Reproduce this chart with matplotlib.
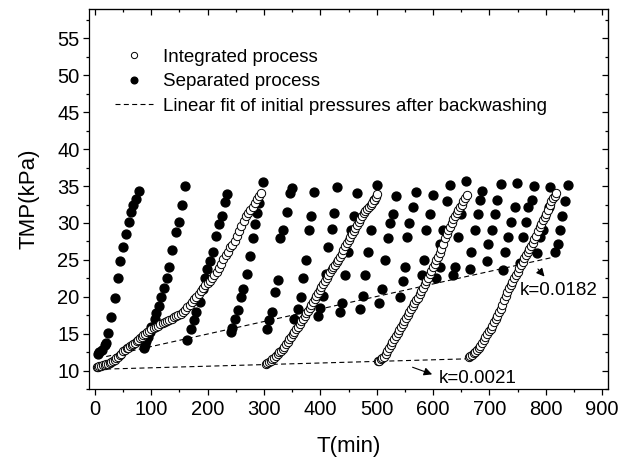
import matplotlib
matplotlib.use("Agg")
import numpy as np
import matplotlib.pyplot as plt
from matplotlib.ticker import MultipleLocator

plt.rcParams['font.family'] = ['Liberation Sans', 'DejaVu Sans']

# integrated process, four filtration cycles (open circles)
int_t_a = [3, 5, 8, 11, 14, 17, 20, 23, 26, 29, 32, 35, 38, 41, 44, 47, 50, 53, 56, 59,
           62, 65, 68, 71, 74, 77, 80, 83, 86, 89, 92, 96, 100, 104, 108, 112, 116, 120,
           124, 128, 132, 136, 140, 144, 148, 152, 156, 160, 164, 168, 172, 176, 180, 184,
           188, 192, 196, 200, 204, 208, 212, 216, 220, 224, 228, 232, 236, 240, 244, 248,
           252, 256, 260, 264, 268, 272, 276, 280, 284, 288, 292, 295]
int_p_a = [10.45, 10.55, 10.6, 10.65, 10.7, 10.8, 10.9, 10.95, 11.0, 11.15, 11.35, 11.45,
           11.65, 11.9, 12.05, 12.3, 12.6, 12.85, 13.0, 13.1, 13.3, 13.45, 13.6, 13.75,
           13.95, 14.2, 14.4, 14.6, 14.8, 15.0, 15.2, 15.4, 15.6, 15.8, 15.95, 16.1, 16.25,
           16.4, 16.6, 16.75, 16.9, 17.05, 17.2, 17.35, 17.5, 17.7, 17.95, 18.25, 18.6,
           18.95, 19.3, 19.7, 20.0, 20.35, 20.75, 21.2, 21.6, 21.9, 22.1, 22.5, 22.95, 23.4,
           23.9, 24.5, 25.1, 25.6, 26.1, 26.7, 27.0, 27.6, 28.3, 28.9, 29.6, 30.3, 30.9,
           31.4, 31.8, 32.2, 32.7, 33.2, 33.7, 34.05]

int_t_b = [303, 306, 309, 312, 315, 318, 321, 324, 327, 330, 333, 336, 339, 342, 345, 348,
           351, 354, 357, 360, 363, 366, 369, 372, 375, 378, 381, 384, 387, 390, 393, 396,
           399, 402, 405, 408, 411, 414, 417, 420, 423, 426, 429, 432, 435, 438, 441, 444,
           447, 450, 453, 456, 459, 462, 465, 468, 471, 474, 477, 480, 483, 486, 489, 492,
           495, 498, 500]
int_p_b = [10.95, 11.05, 11.15, 11.35, 11.55, 11.75, 11.95, 12.2, 12.45, 12.7, 12.95, 13.25,
           13.55, 13.9, 14.25, 14.6, 14.9, 15.25, 15.6, 15.95, 16.3, 16.65, 17.0, 17.4,
           17.75, 18.1, 18.5, 18.9, 19.3, 19.7, 20.1, 20.5, 20.9, 21.3, 21.75, 22.2, 22.6,
           23.0, 23.35, 23.7, 24.0, 24.35, 24.7, 25.05, 25.4, 25.85, 26.35, 26.85, 27.3,
           27.7, 28.1, 28.5, 28.9, 29.3, 29.75, 30.15, 30.55, 30.95, 31.3, 31.6, 31.9, 32.2,
           32.45, 32.75, 33.1, 33.5, 33.9]

int_t_c = [502, 504, 507, 510, 513, 516, 519, 522, 525, 528, 531, 534, 537, 540, 543, 546,
           549, 552, 555, 558, 561, 564, 567, 570, 573, 576, 579, 582, 585, 588, 591, 594,
           597, 600, 603, 606, 609, 612, 615, 618, 621, 624, 627, 630, 633, 636, 639, 642,
           645, 648, 651, 654, 657, 660]
int_p_c = [11.3, 11.35, 11.5, 11.7, 11.9, 12.2, 12.6, 13.0, 13.4, 13.85, 14.3, 14.7, 15.1,
           15.5, 15.9, 16.3, 16.7, 17.1, 17.5, 17.9, 18.3, 18.7, 19.1, 19.5, 19.9, 20.35,
           20.8, 21.25, 21.7, 22.15, 22.6, 23.05, 23.5, 24.0, 24.5, 25.0, 25.45, 25.9, 26.5,
           27.2, 27.9, 28.5, 29.0, 29.5, 30.0, 30.5, 30.95, 31.35, 31.75, 32.1, 32.5, 32.95,
           33.35, 33.75]

int_t_d = [663, 666, 669, 672, 675, 678, 681, 684, 687, 690, 693, 696, 699, 702, 705, 708,
           711, 714, 717, 720, 723, 726, 729, 732, 735, 738, 741, 744, 747, 750, 753, 756,
           759, 762, 765, 768, 771, 774, 777, 780, 783, 786, 789, 792, 795, 798, 801, 804,
           807, 810, 813, 816, 819]
int_p_d = [11.9, 12.0, 12.15, 12.35, 12.5, 12.75, 13.0, 13.3, 13.7, 14.1, 14.5, 14.9, 15.3,
           15.7, 16.1, 16.55, 17.0, 17.45, 17.9, 18.4, 18.9, 19.5, 20.1, 20.7, 21.2, 21.6,
           22.0, 22.5, 22.95, 23.4, 23.85, 24.3, 24.75, 25.2, 25.7, 26.1, 26.5, 26.9, 27.3,
           27.8, 28.3, 28.9, 29.4, 29.9, 30.35, 30.8, 31.25, 31.8, 32.4, 33.0, 33.4, 33.7,
           34.0]

# separated process (filled circles)
sep_t = [5, 8, 12, 17, 19, 24, 29, 35, 40, 45, 50, 55, 60, 64, 67, 72, 79,
         87, 88, 90, 94, 97, 100, 106, 109, 113, 118, 122, 127, 131, 136, 144, 149, 155, 160,
         164, 171, 176, 179, 187, 191, 195, 199, 205, 210, 215, 220, 225, 231, 234,
         241, 244, 248, 254, 260, 263, 269, 275, 280, 284, 288, 291, 298,
         305, 309, 314, 320, 325, 329, 334, 341, 346, 349,
         354, 360, 365, 370, 375, 380, 384, 388,
         395, 399, 405, 410, 414, 420, 424, 430,
         435, 439, 443, 449, 455, 460, 465,
         470, 475, 479, 485, 489, 495, 500,
         504, 509, 514, 520, 524, 529, 535,
         541, 547, 550, 553, 558, 565, 569,
         580, 584, 588, 594, 600,
         606, 612, 612, 618, 624, 630,
         635, 639, 644, 649, 659,
         665, 668, 674, 680, 683, 686,
         695, 698, 704, 710, 713, 720,
         724, 727, 733, 738, 745, 749,
         754, 759, 765, 769, 775, 779,
         784, 789, 795, 806, 808,
         816, 822, 825, 828, 835, 840]
sep_p = [12.2, 12.5, 12.8, 13.4, 13.7, 15.1, 17.3, 19.8, 22.5, 24.9, 26.7, 28.5, 30.1, 31.5, 32.4, 33.3, 34.3,
         13.0, 13.4, 14.0, 14.6, 15.2, 15.9, 17.0, 17.8, 18.7, 20.0, 21.2, 22.6, 24.0, 26.3, 28.8, 30.1, 32.5, 35.0,
         14.2, 15.7, 16.8, 17.9, 19.3, 21.0, 22.6, 23.7, 24.9, 26.1, 28.2, 29.8, 31.0, 32.8, 33.9,
         15.2, 15.8, 17.0, 18.2, 20.0, 21.1, 23.1, 25.5, 27.9, 29.8, 31.3, 32.7, 35.5,
         15.7, 16.8, 17.9, 20.6, 22.3, 27.9, 29.1, 31.5, 34.0, 34.7,
         17.0, 18.3, 20.0, 22.5, 25.0, 29.0, 31.0, 34.2,
         17.4, 18.5, 20.1, 23.1, 26.8, 29.2, 31.3, 34.9,
         17.9, 19.1, 23.0, 26.1, 29.0, 31.0, 34.0,
         18.3, 20.1, 23.0, 26.1, 29.0, 33.1, 35.2,
         19.1, 21.1, 25.0, 28.0, 30.0, 31.2, 33.6,
         20.0, 22.2, 24.0, 28.1, 30.0, 32.1, 34.2,
         23.0, 25.0, 29.1, 31.2, 33.75,
         22.6, 24.0, 27.1, 29.1, 33.0, 35.2,
         22.9, 24.0, 28.1, 31.2, 35.7,
         23.8, 26.1, 29.1, 31.2, 33.1, 34.3,
         24.9, 27.1, 29.1, 31.2, 33.1, 35.3,
         23.6, 26.1, 28.1, 30.1, 32.1, 35.4,
         24.6, 28.1, 30.1, 32.1, 33.1, 35.0,
         25.9, 28.1, 29.1, 32.2, 34.9,
         26.1, 27.1, 29.1, 31.0, 33.0, 35.1]

# linear fits of the initial pressures
fit_sep_t = [20, 810]
fit_sep_p = [11.9, 25.3]
fit_int_t = [5, 665]
fit_int_p = [10.17, 11.6]

int_t = int_t_a + int_t_b + int_t_c + int_t_d
int_p = int_p_a + int_p_b + int_p_c + int_p_d

fig = plt.figure(figsize=(6.26, 4.63), dpi=100)
ax = fig.add_axes([0.1427, 0.1598, 0.8281, 0.8208])

ax.plot(sep_t, sep_p, 'o', color='black', ms=6.4, mec='black', lw=0,
        label='Separated process', zorder=3)
ax.plot(int_t, int_p, 'o', mfc='white', mec='black', mew=0.7, ms=6.0, lw=0,
        label='Integrated process', zorder=4)
ax.plot(fit_sep_t, fit_sep_p, color='black', lw=0.8, dashes=(4.5, 3), zorder=2,
        label='Linear fit of initial pressures after backwashing')
ax.plot(fit_int_t, fit_int_p, color='black', lw=0.8, dashes=(4.5, 3), zorder=2)

ax.annotate('', xy=(801, 22.45), xytext=(783, 24.05),
            arrowprops=dict(arrowstyle='-|>', color='black', lw=0.8, mutation_scale=12))
ax.text(754, 20.2, 'k=0.0182', fontsize=13.5, va='baseline')
ax.annotate('', xy=(603, 9.36), xytext=(559, 10.58),
            arrowprops=dict(arrowstyle='-|>', color='black', lw=0.8, mutation_scale=12))
ax.text(611, 8.28, 'k=0.0021', fontsize=13.5, va='baseline')

ax.set_xlim(-10, 910)
ax.set_ylim(7.5, 59)
ax.xaxis.set_major_locator(MultipleLocator(100))
ax.xaxis.set_minor_locator(MultipleLocator(50))
ax.yaxis.set_major_locator(MultipleLocator(5))
ax.yaxis.set_minor_locator(MultipleLocator(2.5))
ax.tick_params(which='major', direction='out', length=4, width=0.9, labelsize=14.5, pad=4)
ax.tick_params(which='minor', direction='out', length=2.3, width=0.9)
ax.tick_params(axis='y', which='major', pad=3)
for s in ax.spines.values():
    s.set_linewidth(0.9)

# mirrored ticks on top and right, pointing inward
top = ax.secondary_xaxis('top')
top.xaxis.set_major_locator(MultipleLocator(100))
top.xaxis.set_minor_locator(MultipleLocator(50))
top.tick_params(which='both', direction='in', labeltop=False, width=0.9)
top.tick_params(which='major', length=4)
top.tick_params(which='minor', length=2.3)
right = ax.secondary_yaxis('right')
right.yaxis.set_major_locator(MultipleLocator(5))
right.yaxis.set_minor_locator(MultipleLocator(2.5))
right.tick_params(which='both', direction='in', labelright=False, width=0.9)
right.tick_params(which='major', length=4)
right.tick_params(which='minor', length=2.3)

ax.set_xlabel('T(min)', fontsize=16, labelpad=12)
ax.set_ylabel('TMP(kPa)', fontsize=16, labelpad=13)

h, l = ax.get_legend_handles_labels()
ax.legend([h[1], h[0], h[2]], [l[1], l[0], l[2]], loc='upper left',
          bbox_to_anchor=(0.05, 0.895), frameon=False, fontsize=13.5, markerscale=0.75,
          handlelength=2.0, handletextpad=0.55, labelspacing=0.38, borderpad=0,
          borderaxespad=0, numpoints=1)

fig.savefig('out.png', dpi=100)
